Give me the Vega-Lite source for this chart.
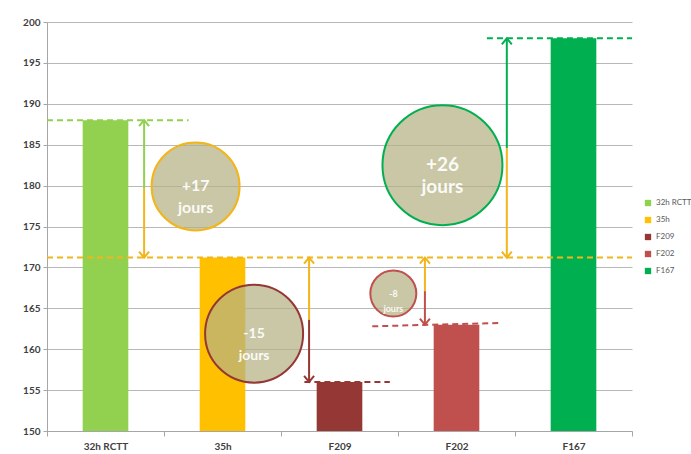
{
  "$schema": "https://vega.github.io/schema/vega-lite/v6.json",
  "width": 585,
  "height": 409,
  "autosize": {"type": "none"},
  "padding": {"left": 47, "top": 22, "right": 59, "bottom": 23},
  "background": "white",
  "config": {
    "font": "Lato",
    "view": {"stroke": null},
    "axis": {"labelFont": "Lato", "labelFontWeight": "bold", "labelFontSize": 10, "labelColor": "#404040", "domainColor": "#a6a6a6", "tickColor": "#a6a6a6", "title": null}
  },
  "datasets": {
    "bars": [
      {"cat": "32h RCTT", "v": 188},
      {"cat": "35h", "v": 171.2},
      {"cat": "F209", "v": 156},
      {"cat": "F202", "v": 163},
      {"cat": "F167", "v": 198}
    ],
    "guides": [
      {"tone": "lightgreen", "x": 0, "x2": 1.21, "y": 188, "y2": 188},
      {"tone": "orange", "x": 0, "x2": 5, "y": 171.2, "y2": 171.2},
      {"tone": "darkred", "x": 2.2, "x2": 2.93, "y": 156, "y2": 156},
      {"tone": "red", "x": 2.78, "x2": 3.87, "y": 162.8, "y2": 163.2},
      {"tone": "green", "x": 3.76, "x2": 5, "y": 198, "y2": 198}
    ],
    "shafts": [
      {"tone": "lightgreen", "x": 0.83, "y": 188, "y2": 179.6},
      {"tone": "orange", "x": 0.83, "y": 179.6, "y2": 171.2},
      {"tone": "orange", "x": 2.24, "y": 171.2, "y2": 163.6},
      {"tone": "darkred", "x": 2.24, "y": 163.6, "y2": 156},
      {"tone": "orange", "x": 3.23, "y": 171.2, "y2": 167.1},
      {"tone": "red", "x": 3.23, "y": 167.1, "y2": 163},
      {"tone": "green", "x": 3.93, "y": 198, "y2": 184.6},
      {"tone": "orange", "x": 3.93, "y": 184.6, "y2": 171.2}
    ],
    "heads": [
      {"tone": "lightgreen", "dir": "up", "x": 0.83, "y": 188},
      {"tone": "orange", "dir": "down", "x": 0.83, "y": 171.2},
      {"tone": "orange", "dir": "up", "x": 2.24, "y": 171.2},
      {"tone": "darkred", "dir": "down", "x": 2.24, "y": 156},
      {"tone": "orange", "dir": "up", "x": 3.23, "y": 171.2},
      {"tone": "red", "dir": "down", "x": 3.23, "y": 163},
      {"tone": "green", "dir": "up", "x": 3.93, "y": 198},
      {"tone": "orange", "dir": "down", "x": 3.93, "y": 171.2}
    ],
    "bubbles": [
      {"label": "+17", "tone": "orange", "txt": "+17\njours", "x": 1.27, "y": 179.9},
      {"label": "-15", "tone": "darkred", "txt": "-15\njours", "x": 1.77, "y": 161.9},
      {"label": "-8", "tone": "red", "txt": "-8\njours", "x": 2.96, "y": 166.8},
      {"label": "+26", "tone": "green", "txt": "+26\njours", "x": 3.38, "y": 182.5}
    ]
  },
  "resolve": {"scale": {"x": "independent", "size": "independent"}, "axis": {"x": "independent"}},
  "layer": [
    {
      "data": {"name": "bars"},
      "mark": {"type": "bar", "width": {"band": 0.39}},
      "encoding": {
        "x": {"field": "cat", "type": "nominal", "sort": null,
          "scale": {"paddingInner": 0, "paddingOuter": 0},
          "axis": {"labelAngle": 0, "tickBand": "extent", "tickSize": 5, "labelPadding": 5, "grid": false, "domainColor": "#a6a6a6"}},
        "y": {"field": "v", "type": "quantitative",
          "scale": {"domain": [150, 200], "zero": false, "nice": false},
          "axis": {"values": [150,155,160,165,170,175,180,185,190,195,200], "tickSize": 4, "labelPadding": 3, "grid": true, "gridColor": "#b8b8b8", "gridWidth": 1}},
        "y2": {"datum": 150},
        "color": {"field": "cat", "type": "nominal",
          "scale": {"domain": ["32h RCTT", "35h", "F209", "F202", "F167"], "range": ["#92d050", "#ffc000", "#953735", "#c0504d", "#00b050"]},
          "legend": {"title": null, "orient": "none", "legendX": 597, "legendY": 177, "symbolType": "square", "symbolSize": 40, "labelFontSize": 8, "labelColor": "#595959", "labelFont": "Lato", "rowPadding": 9, "symbolStrokeWidth": 0}}
      }
    },
    {
      "data": {"name": "guides"},
      "mark": {"type": "rule", "strokeDash": [6, 4], "strokeWidth": 2},
      "encoding": {
        "x": {"field": "x", "type": "quantitative", "scale": {"domain": [0, 5], "nice": false, "zero": false}, "axis": null},
        "x2": {"field": "x2"},
        "y": {"field": "y", "type": "quantitative"},
        "y2": {"field": "y2"},
        "stroke": {"field": "tone", "type": "nominal",
          "scale": {"domain": ["lightgreen", "orange", "darkred", "red", "green"], "range": ["#92d050", "#f2b51a", "#953735", "#c0504d", "#00b050"]},
          "legend": null}
      }
    },
    {
      "data": {"name": "shafts"},
      "mark": {"type": "rule", "strokeWidth": 2},
      "encoding": {
        "x": {"field": "x", "type": "quantitative", "scale": {"domain": [0, 5], "nice": false, "zero": false}, "axis": null},
        "y": {"field": "y", "type": "quantitative"},
        "y2": {"field": "y2"},
        "stroke": {"field": "tone", "type": "nominal", "legend": null}
      }
    },
    {
      "data": {"name": "heads"},
      "mark": {"type": "point", "filled": false, "strokeWidth": 2, "opacity": 1, "size": 100},
      "encoding": {
        "x": {"field": "x", "type": "quantitative", "scale": {"domain": [0, 5], "nice": false, "zero": false}, "axis": null},
        "y": {"field": "y", "type": "quantitative"},
        "shape": {"field": "dir", "type": "nominal", "scale": {"domain": ["up", "down"], "range": ["M-1,1.2L0,0L1,1.2", "M-1,-1.2L0,0L1,-1.2"]}, "legend": null},
        "stroke": {"field": "tone", "type": "nominal", "legend": null}
      }
    },
    {
      "data": {"name": "bubbles"},
      "mark": {"type": "point", "shape": "circle", "filled": true, "fill": "#b4b282", "fillOpacity": 0.72, "strokeWidth": 2, "strokeOpacity": 1},
      "encoding": {
        "x": {"field": "x", "type": "quantitative", "scale": {"domain": [0, 5], "nice": false, "zero": false}, "axis": null},
        "y": {"field": "y", "type": "quantitative"},
        "size": {"field": "label", "type": "nominal", "scale": {"type": "ordinal", "domain": ["+17", "-15", "-8", "+26"], "range": [7744, 9604, 2116, 14400]}, "legend": null},
        "stroke": {"field": "tone", "type": "nominal", "legend": null}
      }
    },
    {
      "data": {"name": "bubbles"},
      "transform": [{"filter": "datum.label !== '-8'"}],
      "mark": {"type": "text", "lineBreak": "\n", "lineHeight": 22, "fontWeight": "bold", "color": "#ffffff", "opacity": 0.92, "align": "center", "baseline": "middle", "font": "Lato"},
      "encoding": {
        "x": {"field": "x", "type": "quantitative", "scale": {"domain": [0, 5], "nice": false, "zero": false}, "axis": null},
        "y": {"field": "y", "type": "quantitative"},
        "text": {"field": "txt"},
        "size": {"field": "label", "type": "nominal", "scale": {"type": "ordinal", "domain": ["+17", "-15", "+26"], "range": [16, 14, 19]}, "legend": null}
      }
    },
    {
      "data": {"name": "bubbles"},
      "transform": [{"filter": "datum.label === '-8'"}],
      "mark": {"type": "text", "lineBreak": "\n", "lineHeight": 15, "fontSize": 9, "fontWeight": "bold", "color": "#ffffff", "opacity": 0.92, "align": "center", "baseline": "middle", "font": "Lato"},
      "encoding": {
        "x": {"field": "x", "type": "quantitative", "scale": {"domain": [0, 5], "nice": false, "zero": false}, "axis": null},
        "y": {"field": "y", "type": "quantitative"},
        "text": {"field": "txt"}
      }
    }
  ]
}
